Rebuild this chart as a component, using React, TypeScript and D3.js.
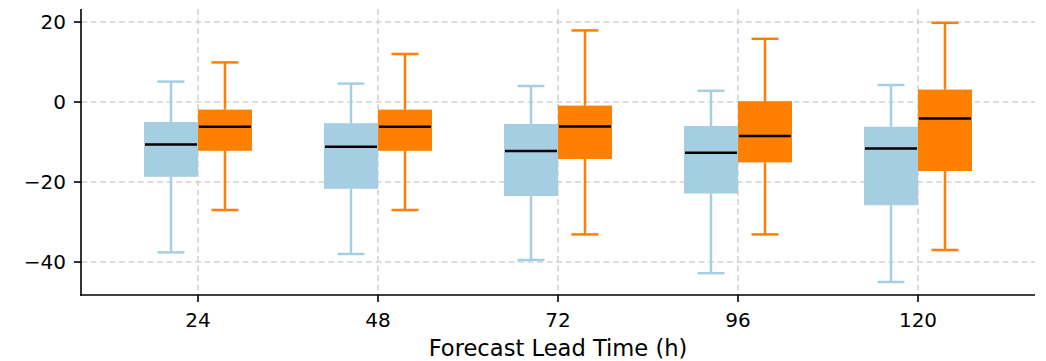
import React from 'react';
import * as d3 from 'd3';

// forecast lead times (h)
const leadTimes = ['24', '48', '72', '96', '120'];

// box stats per lead time: [lower whisker, q1, median, q3, upper whisker]
const blueLow = [-37.6, -38.0, -39.5, -42.8, -45.0];
const blueQ1 = [-18.7, -21.7, -23.5, -22.9, -25.8];
const blueMed = [-10.6, -11.2, -12.25, -12.7, -11.6];
const blueQ3 = [-5.0, -5.3, -5.5, -6.0, -6.2];
const blueHigh = [5.1, 4.6, 4.0, 2.8, 4.25];

const orangeLow = [-27.0, -27.0, -33.1, -33.1, -37.0];
const orangeQ1 = [-12.2, -12.2, -14.25, -15.1, -17.25];
const orangeMed = [-6.2, -6.2, -6.1, -8.5, -4.1];
const orangeQ3 = [-1.9, -1.9, -0.9, 0.2, 3.1];
const orangeHigh = [9.9, 12.0, 17.9, 15.8, 19.8];

const yTicks = [-40, -20, 0, 20];

const W = 1046;
const H = 361;
const left = 81;
const right = 1035;
const top = 9;
const bottom = 295;

const font = 'DejaVu Sans, sans-serif';

const App = () => {
  const x = d3.scaleLinear().domain([-0.65, leadTimes.length - 0.35]).range([left, right]);
  const y = d3.scaleLinear().domain([-48.25, 23.25]).range([bottom, top]);

  const boxW = 0.3;
  const capW = 0.15;

  const series = [
    { color: '#a6cee3', offset: -0.15, low: blueLow, q1: blueQ1, med: blueMed, q3: blueQ3, high: blueHigh },
    { color: '#ff7f00', offset: 0.15, low: orangeLow, q1: orangeQ1, med: orangeMed, q3: orangeQ3, high: orangeHigh },
  ];

  return (
    <svg width={W} height={H} style={{ position: 'absolute', left: 0, top: 0, background: '#fff' }}>
      {/* grid */}
      <g stroke="#d3d3d3" strokeWidth={1.6} strokeDasharray="6,3.5">
        {yTicks.map(t => (
          <line key={'gy' + t} x1={left} x2={right} y1={y(t)} y2={y(t)} />
        ))}
        {leadTimes.map((c, i) => (
          <line key={'gx' + c} x1={x(i)} x2={x(i)} y1={top} y2={bottom} />
        ))}
      </g>

      {/* boxes */}
      {series.map((s, si) => (
        <g key={si}>
          {leadTimes.map((c, i) => {
            const cx = x(i + s.offset);
            const x0 = x(i + s.offset - boxW / 2);
            const x1 = x(i + s.offset + boxW / 2);
            const c0 = x(i + s.offset - capW / 2);
            const c1 = x(i + s.offset + capW / 2);
            return (
              <g key={c}>
                <line x1={cx} x2={cx} y1={y(s.q3[i])} y2={y(s.high[i])} stroke={s.color} strokeWidth={2.5} />
                <line x1={cx} x2={cx} y1={y(s.q1[i])} y2={y(s.low[i])} stroke={s.color} strokeWidth={2.5} />
                <line x1={c0} x2={c1} y1={y(s.high[i])} y2={y(s.high[i])} stroke={s.color} strokeWidth={2.5} />
                <line x1={c0} x2={c1} y1={y(s.low[i])} y2={y(s.low[i])} stroke={s.color} strokeWidth={2.5} />
                <rect x={x0} width={x1 - x0} y={y(s.q3[i])} height={y(s.q1[i]) - y(s.q3[i])} fill={s.color} />
                <line x1={x0 + 1} x2={x1 - 1} y1={y(s.med[i])} y2={y(s.med[i])} stroke="#000" strokeWidth={2.5} />
              </g>
            );
          })}
        </g>
      ))}

      {/* axes */}
      <g stroke="#000" strokeWidth={1.6}>
        <line x1={left} x2={left} y1={top} y2={bottom + 0.8} />
        <line x1={left - 0.8} x2={right} y1={bottom} y2={bottom} />
        {yTicks.map(t => (
          <line key={'ty' + t} x1={left - 7} x2={left} y1={y(t)} y2={y(t)} />
        ))}
        {leadTimes.map((c, i) => (
          <line key={'tx' + c} x1={x(i)} x2={x(i)} y1={bottom} y2={bottom + 7} />
        ))}
      </g>
      <g fontFamily={font} fontSize={20} fill="#000">
        {yTicks.map(t => (
          <text key={'ly' + t} x={left - 15} y={y(t)} dy="0.36em" textAnchor="end">
            {t < 0 ? '\u2212' + Math.abs(t) : t}
          </text>
        ))}
        {leadTimes.map((c, i) => (
          <text key={'lx' + c} x={x(i)} y={bottom + 32} textAnchor="middle">
            {c}
          </text>
        ))}
      </g>
      <text x={(left + right) / 2} y={356} textAnchor="middle" fontFamily={font} fontSize={22.6} fill="#000">
        Forecast Lead Time (h)
      </text>
    </svg>
  );
};

export default App;
